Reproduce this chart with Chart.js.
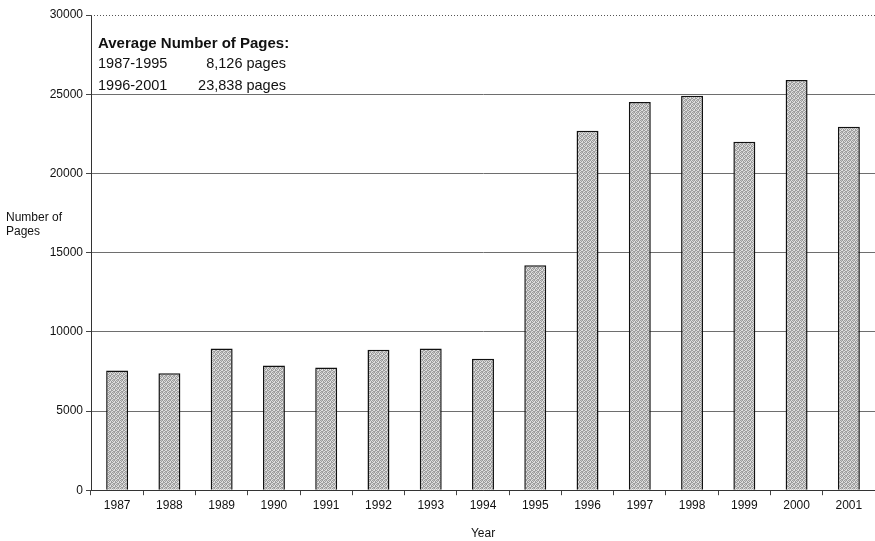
<!DOCTYPE html>
<html>
<head>
<meta charset="utf-8">
<script src="https://cdn.jsdelivr.net/npm/chart.js@4/dist/chart.umd.min.js"></script>
<style>
html,body{margin:0;padding:0;background:#fff;}
#wrap{width:875px;height:541px;position:relative;}
</style>
</head>
<body>
<div id="wrap"><canvas id="c" width="875" height="541"></canvas></div>
<script>
const years = ['1987','1988','1989','1990','1991','1992','1993','1994','1995','1996','1997','1998','1999','2000','2001'];
const pages = [7550, 7380, 8950, 7880, 7750, 8870, 8950, 8300, 14200, 22700, 24500, 24900, 22000, 25900, 22950];
const yTicks = [0, 5000, 10000, 15000, 20000, 25000, 30000];
const noteTitle = 'Average Number of Pages:';
const noteRows = [['1987-1995', '8,126 pages'], ['1996-2001', '23,838 pages']];
const yTitleLines = ['Number of', 'Pages'];
const xTitle = 'Year';

const FONT = '"Liberation Sans", Arial, sans-serif';

function makePattern() {
  const p = document.createElement('canvas');
  p.width = 4; p.height = 4;
  const g = p.getContext('2d');
  g.fillStyle = '#dedede'; g.fillRect(0,0,4,4);
  g.fillStyle = '#9c9c9c';
  [[0,0],[2,0],[1,1],[3,2],[0,2],[2,3],[1,3],[3,1]].forEach(([x,y]) => g.fillRect(x,y,1,1));
  g.fillStyle = '#c4c4c4';
  [[1,0],[3,3]].forEach(([x,y]) => g.fillRect(x,y,1,1));
  return g.createPattern(p, 'repeat');
}

const overlay = {
  id: 'overlay',
  afterDraw(chart) {
    const ctx = chart.ctx;
    const ca = chart.chartArea;
    const y = chart.scales.y;
    ctx.save();
    ctx.strokeStyle = '#555';
    ctx.lineWidth = 1;
    ctx.setLineDash([1, 2]);
    ctx.beginPath();
    const yt = Math.round(y.getPixelForValue(30000)) + 0.5;
    ctx.moveTo(ca.left, yt); ctx.lineTo(ca.right, yt);
    ctx.stroke();
    ctx.setLineDash([]);
    ctx.fillStyle = '#111';
    ctx.font = '12px ' + FONT;
    ctx.textAlign = 'left';
    ctx.textBaseline = 'middle';
    ctx.fillText(yTitleLines[0], 6, 218);
    ctx.fillText(yTitleLines[1], 6, 232);
    ctx.font = 'bold 15px ' + FONT;
    ctx.fillText(noteTitle, 98, 44);
    ctx.font = '14.5px ' + FONT;
    noteRows.forEach((r, i) => {
      const ty = 64 + i * 22;
      ctx.textAlign = 'left';
      ctx.fillText(r[0], 98, ty);
      ctx.textAlign = 'right';
      ctx.fillText(r[1], 286, ty);
    });
    ctx.restore();
  }
};

new Chart(document.getElementById('c'), {
  type: 'bar',
  data: {
    labels: years,
    datasets: [{
      data: pages,
      backgroundColor: makePattern(),
      borderColor: '#111',
      borderWidth: 1.5,
      barPercentage: 0.42,
      categoryPercentage: 1.0
    }]
  },
  options: {
    responsive: false,
    animation: false,
    events: [],
    layout: { padding: { top: 15, right: 0, left: 0, bottom: 0 } },
    plugins: { legend: { display: false }, tooltip: { enabled: false } },
    scales: {
      x: {
        offset: true,
        grid: { display: true, drawOnChartArea: false, drawTicks: true, tickLength: 5, color: '#444', offset: true },
        border: { display: true, color: '#333', width: 1 },
        ticks: { color: '#111', font: { family: FONT, size: 12 }, padding: 3, maxRotation: 0, autoSkip: false },
        title: { display: true, text: xTitle, color: '#111', font: { family: FONT, size: 12 }, padding: { top: 11, bottom: 0 } }
      },
      y: {
        min: 0, max: 30000,
        afterBuildTicks(s) { s.ticks = yTicks.map(v => ({ value: v })); },
        afterFit(s) { s.width = 91; },
        grid: {
          color: ctx => (ctx.tick && ctx.tick.value === 30000) ? 'rgba(0,0,0,0)' : '#6e6e6e',
          tickColor: '#444',
          tickLength: 5,
          lineWidth: 1
        },
        border: { display: true, color: '#333', width: 1 },
        ticks: { color: '#111', font: { family: FONT, size: 12 }, padding: 3, callback: v => String(v) }
      }
    }
  },
  plugins: [overlay]
});
</script>
</body>
</html>
